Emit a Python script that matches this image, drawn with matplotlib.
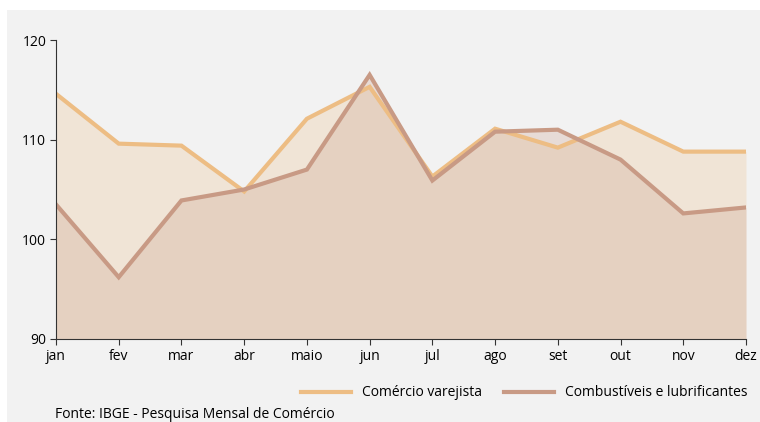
import matplotlib
import matplotlib.pyplot as plt
from matplotlib.patches import Rectangle

matplotlib.use("Agg")

months = ["jan", "fev", "mar", "abr", "maio", "jun", "jul", "ago", "set", "out", "nov", "dez"]
comercio = [114.6, 109.6, 109.4, 104.8, 112.1, 115.3, 106.3, 111.1, 109.2, 111.8, 108.8, 108.8]
combustiveis = [103.5, 96.2, 103.9, 105.0, 107.0, 116.5, 105.9, 110.8, 111.0, 108.0, 102.6, 103.2]
yticks = [90, 100, 110, 120]

orange = "#edbd84"
brown = "#c89a85"

plt.rcParams["font.family"] = ["Open Sans", "DejaVu Sans"]

fig = plt.figure(figsize=(7.6, 4.22), dpi=100)
fig.patch.set_facecolor("white")
# gray panel behind everything
fig.patches.append(Rectangle((7 / 760, 0), 1, 412 / 422, transform=fig.transFigure,
                             facecolor="#f2f2f2", edgecolor="none", zorder=-10))

ax = fig.add_axes([56 / 760, 1 - 339 / 422, 690 / 760, 299 / 422])
ax.set_facecolor("none")

x = list(range(len(months)))
ax.fill_between(x, 90, comercio, color=orange, alpha=0.25, linewidth=0)
ax.fill_between(x, 90, combustiveis, color=brown, alpha=0.25, linewidth=0)
ax.plot(x, comercio, color=orange, linewidth=3, label="Comércio varejista", solid_joinstyle="miter")
ax.plot(x, combustiveis, color=brown, linewidth=3, label="Combustíveis e lubrificantes", solid_joinstyle="miter")

ax.set_xlim(0, 11)
ax.set_ylim(90, 120)
ax.set_xticks(x)
ax.set_xticklabels(months)
ax.set_yticks(yticks)
ax.tick_params(labelsize=10, length=4, width=0.8, color="#333333", pad=3)

for side in ["top", "right"]:
    ax.spines[side].set_visible(False)
for side in ["left", "bottom"]:
    ax.spines[side].set_color("#333333")
    ax.spines[side].set_linewidth(0.8)

fig.legend(loc="center right", bbox_to_anchor=(1.0, 1 - 393 / 422), ncol=2, frameon=False,
           fontsize=10, handlelength=3.6, columnspacing=1.6, handletextpad=0.8)

fig.text(55 / 760, 1 - 407 / 422, "Fonte: IBGE - Pesquisa Mensal de Comércio",
         fontsize=10, va="top", ha="left")

fig.savefig("out.png", dpi=100)
